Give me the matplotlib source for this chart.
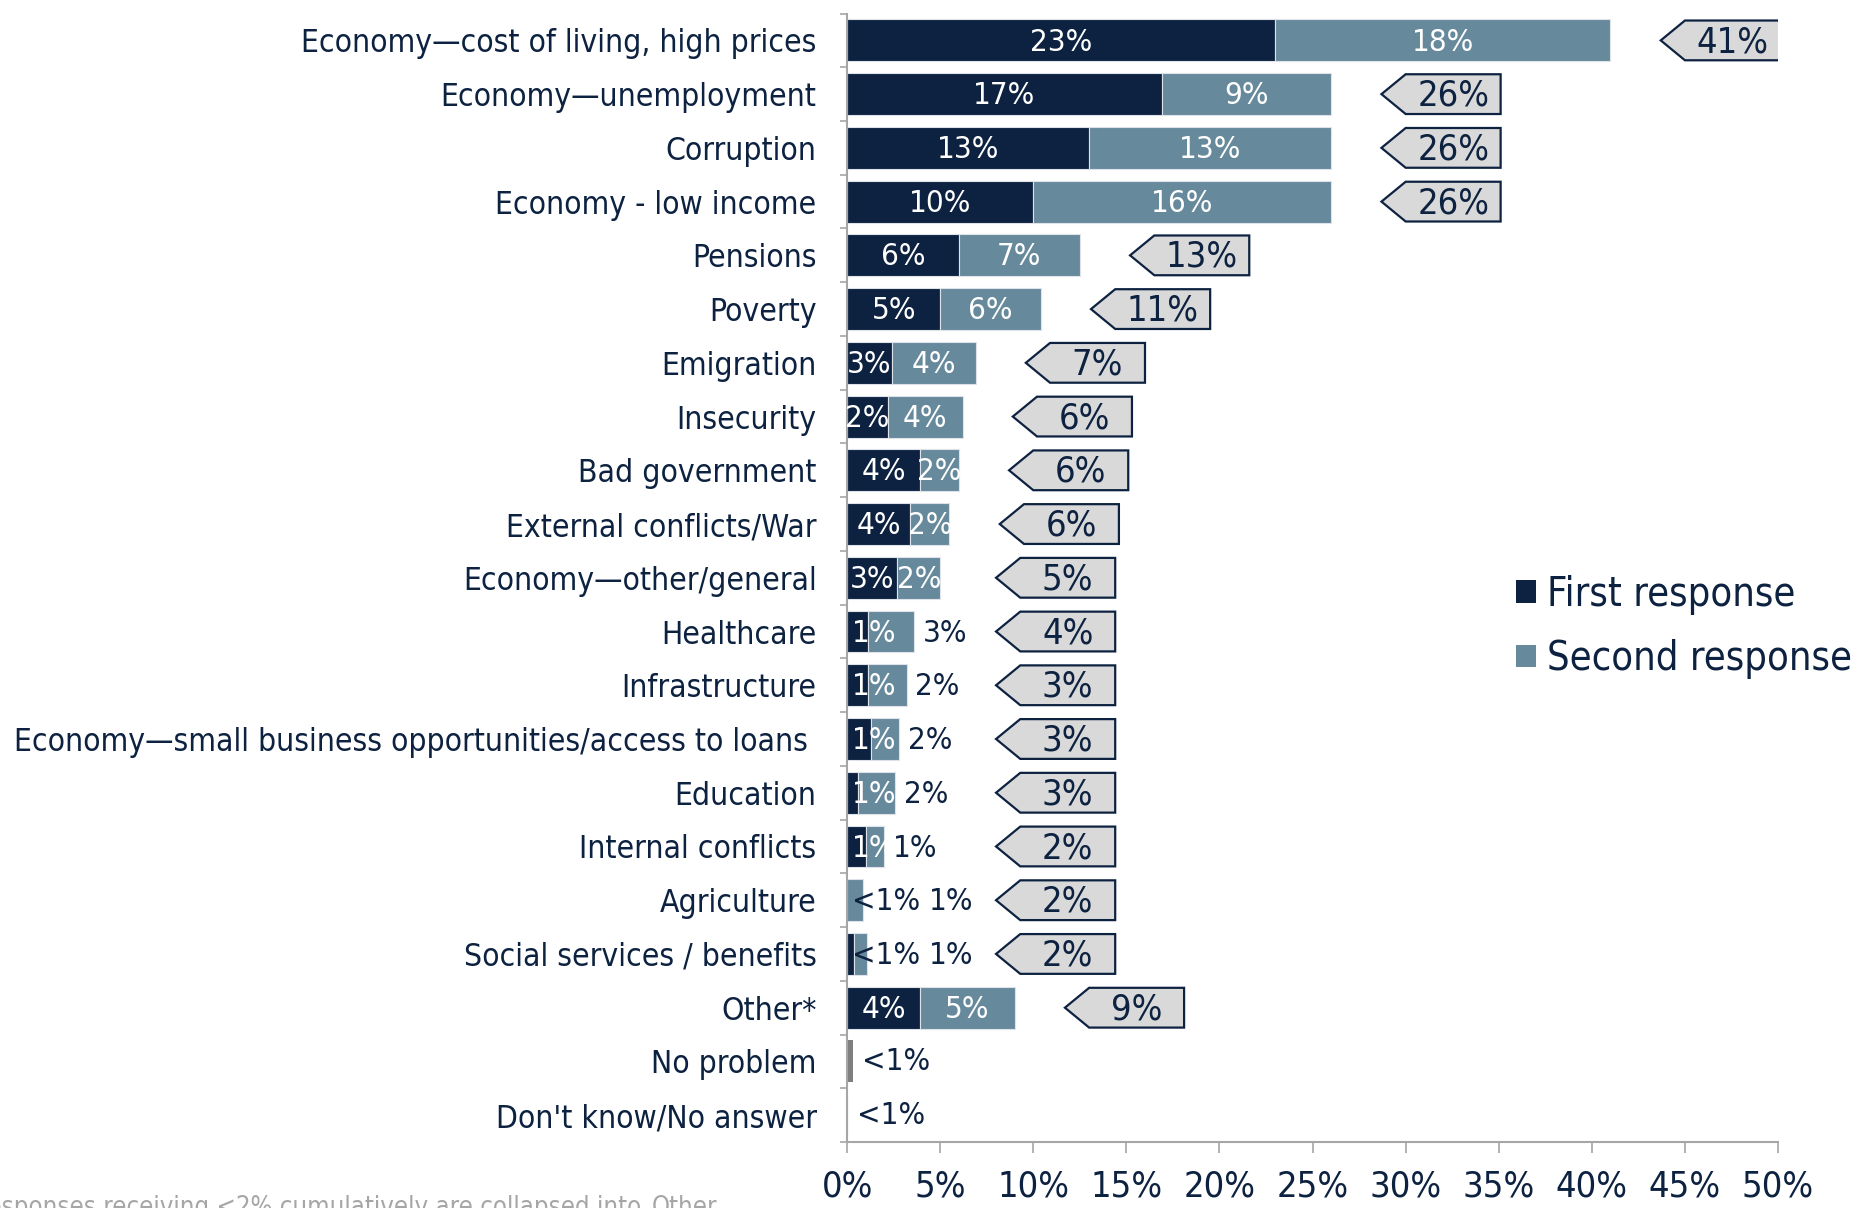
import numpy as np
import matplotlib
matplotlib.use('Agg')
import matplotlib.pyplot as plt
from matplotlib import font_manager as fm
from matplotlib.patches import Polygon, Patch

### data
categories = ['Economy\u2014cost of living, high prices', 'Economy\u2014unemployment', 'Corruption',
              'Economy - low income', 'Pensions', 'Poverty', 'Emigration', 'Insecurity',
              'Bad government', 'External conflicts/War', 'Economy\u2014other/general', 'Healthcare',
              'Infrastructure', 'Economy\u2014small business opportunities/access to loans ',
              'Education', 'Internal conflicts', 'Agriculture', 'Social services / benefits',
              'Other*', 'No problem', "Don't know/No answer"]
first = [23.0, 16.9, 13.0, 10.0, 6.0, 5.0, 2.4, 2.2, 3.9, 3.4, 2.7, 1.1, 1.1, 1.3, 0.6, 1.0,
         0.0, 0.35, 3.9, 0.0, 0.0]
second = [18.0, 9.1, 13.0, 16.0, 6.5, 5.4, 4.5, 4.0, 2.1, 2.1, 2.3, 2.5, 2.1, 1.5, 2.0, 1.0,
          0.85, 0.7, 5.1, 0.0, 0.0]
no_group = [0, 0, 0, 0, 0, 0, 0, 0, 0, 0, 0, 0, 0, 0, 0, 0, 0, 0, 0, 0.3, 0.05]
first_lbl = ['23%', '17%', '13%', '10%', '6%', '5%', '3%', '2%', '4%', '4%', '3%', '1%', '1%',
             '1%', '1%', '1%', '<1%', '<1%', '4%', '', '']
second_lbl = ['18%', '9%', '13%', '16%', '7%', '6%', '4%', '4%', '2%', '2%', '2%', '3%', '2%',
              '2%', '2%', '1%', '1%', '1%', '5%', '', '']
no_lbl = ['', '', '', '', '', '', '', '', '', '', '', '', '', '', '', '', '', '', '', '<1%', '<1%']
total_lbl = ['41%', '26%', '26%', '26%', '13%', '11%', '7%', '6%', '6%', '6%', '5%', '4%', '3%',
             '3%', '3%', '2%', '2%', '2%', '9%', None, None]
xticks = np.arange(0, 51, 5)

### colours / fonts
NAVY = '#0d2240'
STEEL = '#67899c'
GREY = '#a6a6a6'

cond_file = [f.fname for f in fm.fontManager.ttflist if f.fname.endswith('DejaVuSansCondensed.ttf')]
names = {f.name for f in fm.fontManager.ttflist}
if cond_file:
    main_font = fm.FontProperties(fname=cond_file[0])
else:
    main_font = fm.FontProperties(family='DejaVu Sans', stretch='condensed')
if 'Liberation Sans Narrow' in names:
    narrow_font = fm.FontProperties(family='Liberation Sans Narrow')
    nsize = 31
else:
    narrow_font = main_font.copy()
    nsize = 26

def fp(base, size, style='normal'):
    p = base.copy()
    p.set_size(size)
    p.set_style(style)
    return p

y = np.arange(len(categories))
first = np.array(first)
second = np.array(second)
total = first + second

fig = plt.figure(figsize=(18.56, 12.08), dpi=100)
ax = fig.add_axes([0.4564, 0.0546, 0.5016, 0.9342])

bh = 0.78
ax.barh(y, first, height=bh, color=NAVY, edgecolor='#dde3e8', linewidth=0.8)
ax.barh(y, second, left=first, height=bh, color=STEEL, edgecolor='#dde3e8', linewidth=0.8)
ax.barh(y, no_group, height=bh, color='#7f7f7f', linewidth=0)

lab = fp(main_font, 22.5)
for i in range(len(categories)):
    small = first[i] < 1.5
    tiny = first_lbl[i].startswith('<')
    if first_lbl[i]:
        if small:
            ax.text(0.25, i + 0.03, first_lbl[i], ha='left', va='center', fontproperties=lab,
                    color=NAVY if tiny else 'white')
        else:
            ax.text(first[i] / 2, i + 0.03, first_lbl[i], ha='center', va='center',
                    fontproperties=lab, color='white')
    if second_lbl[i]:
        if small:
            x0 = total[i] + 0.45
            if tiny:
                x0 = max(x0, 4.4)
            ax.text(x0, i + 0.03, second_lbl[i], ha='left', va='center', fontproperties=lab,
                    color=NAVY)
        else:
            ax.text(first[i] + second[i] / 2, i + 0.03, second_lbl[i], ha='center', va='center',
                    fontproperties=lab, color='white')
    if no_lbl[i]:
        ax.text(no_group[i] + 0.5, i, no_lbl[i], ha='left', va='center', fontproperties=lab,
                color=NAVY)

    # total callout tags
    if total_lbl[i] is not None:
        c = max(total[i] + 5.9, 11.2)
        tip, right = c - 3.2, c + 3.2
        body = tip + 1.3
        h = 0.37
        tag = Polygon([(tip, i), (body, i - h), (right, i - h), (right, i + h), (body, i + h)],
                      closed=True, facecolor='#d9d9d9', edgecolor=NAVY, linewidth=1.6, zorder=3)
        ax.add_patch(tag)
        ax.text((body + right) / 2, i + 0.03, total_lbl[i], ha='center', va='center',
                fontproperties=fp(narrow_font, nsize), color=NAVY, zorder=4)

ax.set_xlim(0, 50)
ax.set_ylim(len(categories) - 0.5, -0.5)
ax.set_xticks(xticks)
ax.set_xticklabels(['%d%%' % t for t in xticks], fontproperties=fp(narrow_font, nsize), color=NAVY)
ax.set_yticks(y)
ax.set_yticklabels(categories, fontproperties=fp(main_font, 22.8), color=NAVY)
ax.set_yticks(np.arange(-0.5, len(categories), 1), minor=True)
ax.tick_params(axis='y', which='major', length=0, pad=22)
ax.tick_params(axis='y', which='minor', length=5, width=1.2, color=GREY)
ax.tick_params(axis='x', length=8, width=1.2, color=GREY, pad=12)
for s in ['top', 'right']:
    ax.spines[s].set_visible(False)
for s in ['left', 'bottom']:
    ax.spines[s].set_color(GREY)
    ax.spines[s].set_linewidth(1.5)

handles = [Patch(facecolor=NAVY, edgecolor='none'), Patch(facecolor=STEEL, edgecolor='none')]
fig.legend(handles, ['First response', 'Second response'], loc='center left',
           bbox_to_anchor=(0.806, 0.481), frameon=False, prop=fp(main_font, 28.5),
           handlelength=0.5, handleheight=0.5, handletextpad=0.3, labelspacing=0.62,
           borderpad=0, labelcolor=NAVY)

# footnote (cut off at the left and bottom edge in the original)
foot = '*Responses receiving <2% cumulatively are collapsed into '
fig.text(649 / 1856, -0.006, foot, ha='right', va='baseline', color=GREY,
         fontproperties=fp(main_font, 18.45))
fig.text(652 / 1856, -0.006, 'Other', ha='left', va='baseline', color=GREY,
         fontproperties=fp(main_font, 18.45, 'italic'))

plt.savefig('out.png', dpi=100)
